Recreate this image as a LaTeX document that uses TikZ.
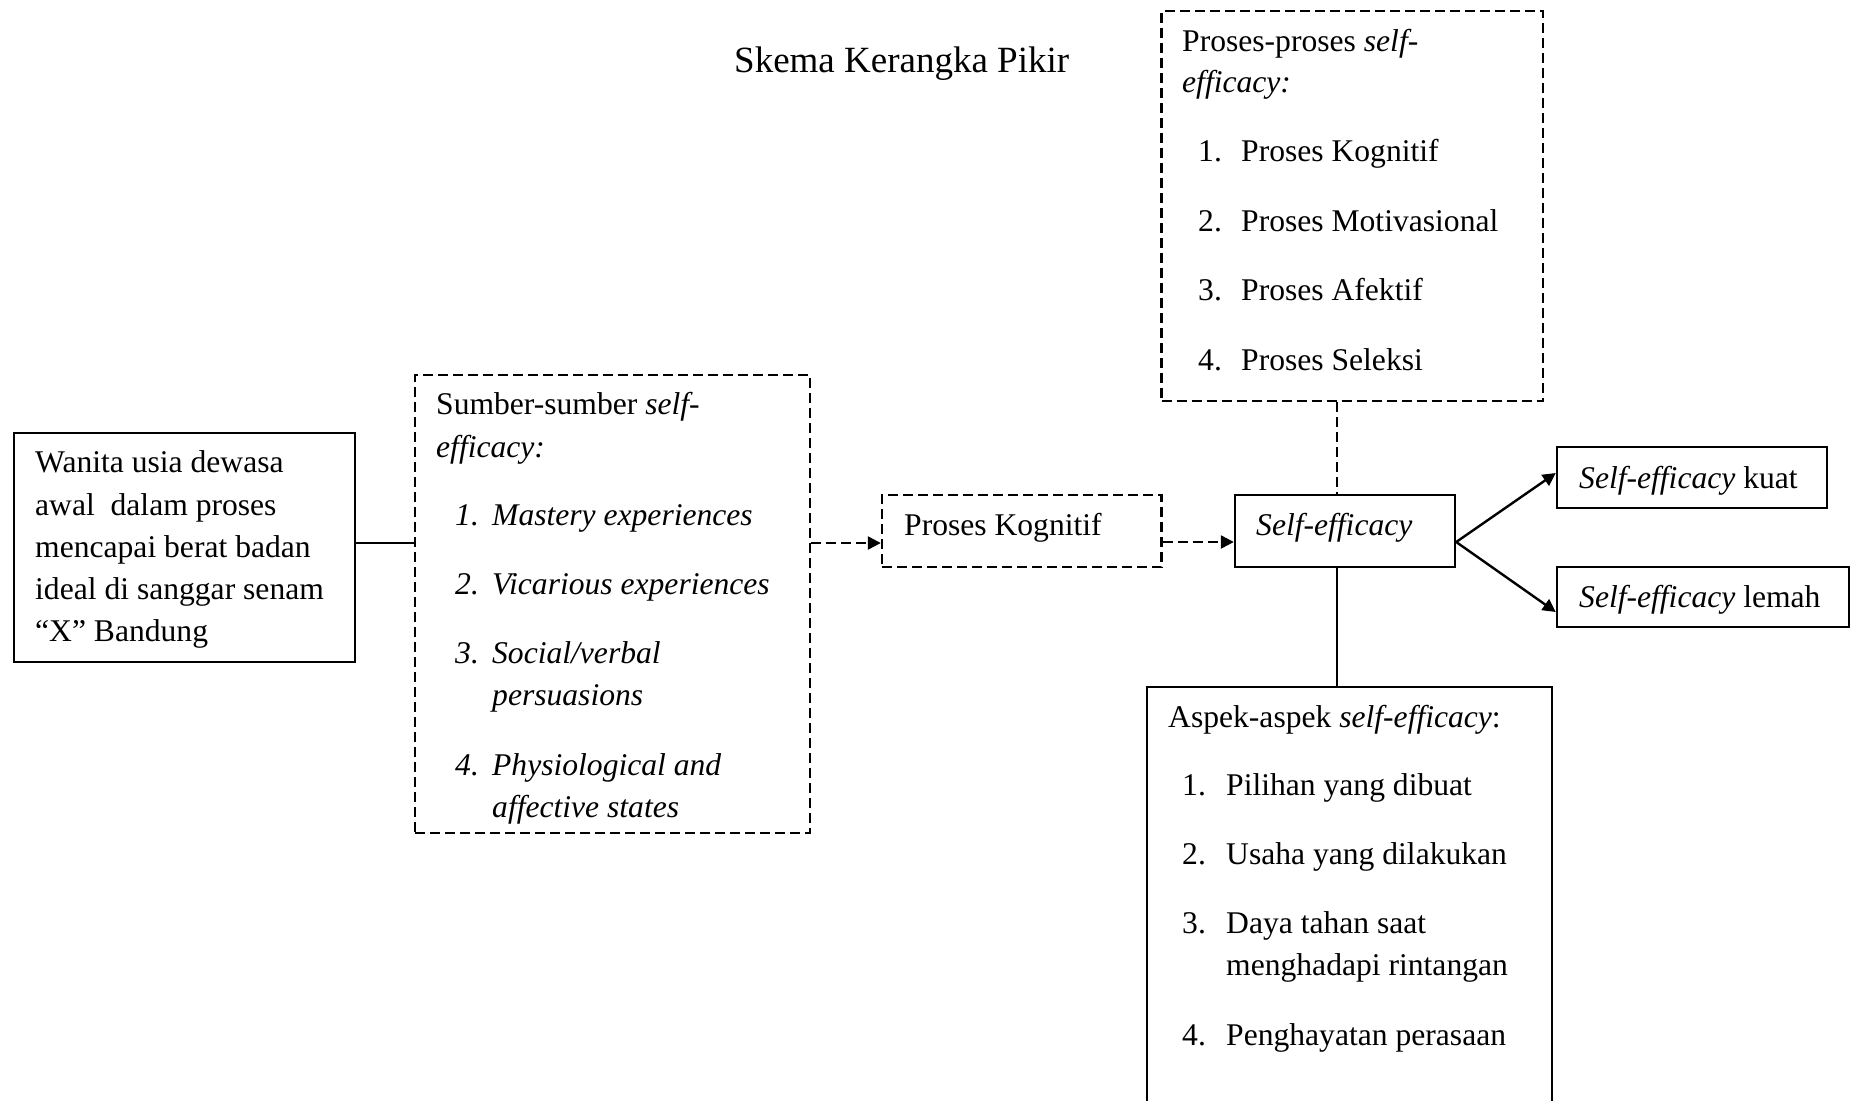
\documentclass[tikz,border=0pt]{standalone}
\usepackage{fontspec}
\setmainfont{Liberation Serif}
\usetikzlibrary{arrows.meta}
\begin{document}
\begin{tikzpicture}[x=1pt,y=-1pt,
  box/.style={draw, line width=2.4pt, inner sep=0pt, rectangle},
  dbox/.style={box, dash pattern=on 10pt off 5pt},
  txt/.style={anchor=base west, inner sep=0pt, font=\fontsize{31.6}{38}\selectfont},
  ttl/.style={anchor=base west, inner sep=0pt, font=\fontsize{37}{44}\selectfont},
  link/.style={line width=2.4pt},
  dlink/.style={link, dash pattern=on 10pt off 5pt},
  tip/.style={-{Triangle[length=13pt,width=13pt]}}]
\useasboundingbox (0,0) rectangle (1851,1100);
\clip (0,0) rectangle (1851,1100);
\fill[white] (0,0) rectangle (1851,1100);

% title
\node[ttl] (title) at (734,72) {Skema Kerangka Pikir};

% boxes
\node[box,  minimum width=341pt,   minimum height=229pt] (wanita) at (184.5,547.5) {};
\node[dbox, minimum width=395pt,   minimum height=458pt] (sumber) at (612.5,604) {};
\node[dbox, minimum width=279.5pt, minimum height=72pt]  (kognitif) at (1021.75,531) {};
\node[box,  minimum width=220pt,   minimum height=72pt]  (se) at (1345,531) {};
\node[dbox, minimum width=381.5pt, minimum height=390pt] (proses) at (1352.25,206) {};
\node[box,  minimum width=270pt,   minimum height=61pt]  (kuat) at (1692,477.5) {};
\node[box,  minimum width=292pt,   minimum height=60pt]  (lemah) at (1703,597) {};
\node[box,  minimum width=405pt,   minimum height=433pt] (aspek) at (1349.5,903.5) {};

% Wanita text
\node[txt] (w1) at (35,472) {Wanita usia dewasa};
\node[txt] (w2) at (35,515) {awal~ dalam proses};
\node[txt] (w3) at (35,557) {mencapai berat badan};
\node[txt] (w4) at (35,599) {ideal di sanggar senam};
\node[txt] (w5) at (35,641) {“X” Bandung};

% Sumber text
\node[txt] (s0) at (436,414) {Sumber-sumber \textit{self-}};
\node[txt] (s0b) at (436,457) {\textit{efficacy:}};
\node[txt] (s1) at (455,525) {\makebox[37pt][l]{\textit{1.}}\textit{Mastery experiences}};
\node[txt] (s2) at (455,594) {\makebox[37pt][l]{\textit{2.}}\textit{Vicarious experiences}};
\node[txt] (s3) at (455,663) {\makebox[37pt][l]{\textit{3.}}\textit{Social/verbal}};
\node[txt] (s3b) at (492,705) {\textit{persuasions}};
\node[txt] (s4) at (455,775) {\makebox[37pt][l]{\textit{4.}}\textit{Physiological and}};
\node[txt] (s4b) at (492,817) {\textit{affective states}};

% Proses Kognitif / Self-efficacy
\node[txt] (kt) at (904,535) {Proses Kognitif};
\node[txt] (set) at (1256,535) {\textit{Self-efficacy}};
\node[txt] (kuatt) at (1579,488) {\textit{Self-efficacy} kuat};
\node[txt] (lemaht) at (1579,607) {\textit{Self-efficacy} lemah};

% Proses-proses text
\node[txt] (p0) at (1182,51) {Proses-proses \textit{self-}};
\node[txt] (p0b) at (1182,92) {\textit{efficacy:}};
\node[txt] (p1) at (1198,161) {\makebox[43pt][l]{1.}Proses Kognitif};
\node[txt] (p2) at (1198,231) {\makebox[43pt][l]{2.}Proses Motivasional};
\node[txt] (p3) at (1198,300) {\makebox[43pt][l]{3.}Proses Afektif};
\node[txt] (p4) at (1198,370) {\makebox[43pt][l]{4.}Proses Seleksi};

% Aspek text
\node[txt] (a0) at (1168,727) {Aspek-aspek \textit{self-efficacy}:};
\node[txt] (a1) at (1182,795) {\makebox[44pt][l]{1.}Pilihan yang dibuat};
\node[txt] (a2) at (1182,864) {\makebox[44pt][l]{2.}Usaha yang dilakukan};
\node[txt] (a3) at (1182,933) {\makebox[44pt][l]{3.}Daya tahan saat};
\node[txt] (a3b) at (1226,975) {menghadapi rintangan};
\node[txt] (a4) at (1182,1045) {\makebox[44pt][l]{4.}Penghayatan perasaan};

% connectors
\coordinate (ca) at ([yshift=4.5pt]wanita.east);
\draw[link] (ca) -- (ca -| sumber.west);
\coordinate (cb) at ([yshift=-12pt]kognitif.west);
\draw[dlink,tip] (cb -| sumber.east) -- (cb);
\coordinate (cc) at ([yshift=-11pt]se.west);
\draw[dlink,tip] (cc -| kognitif.east) -- (cc);
\coordinate (cd) at ([xshift=-8pt]se.north);
\draw[dlink] (cd |- proses.south) -- (cd);
\coordinate (ce) at ([xshift=-8pt]se.south);
\draw[link,line width=1.8pt] (ce) -- (ce |- aspek.north);
\coordinate (cf) at ([yshift=-11pt]se.east);
\draw[link,tip] (cf) -- ([yshift=4.5pt]kuat.west);
\draw[link,tip] (cf) -- ([yshift=-15pt]lemah.west);
\end{tikzpicture}
\end{document}
